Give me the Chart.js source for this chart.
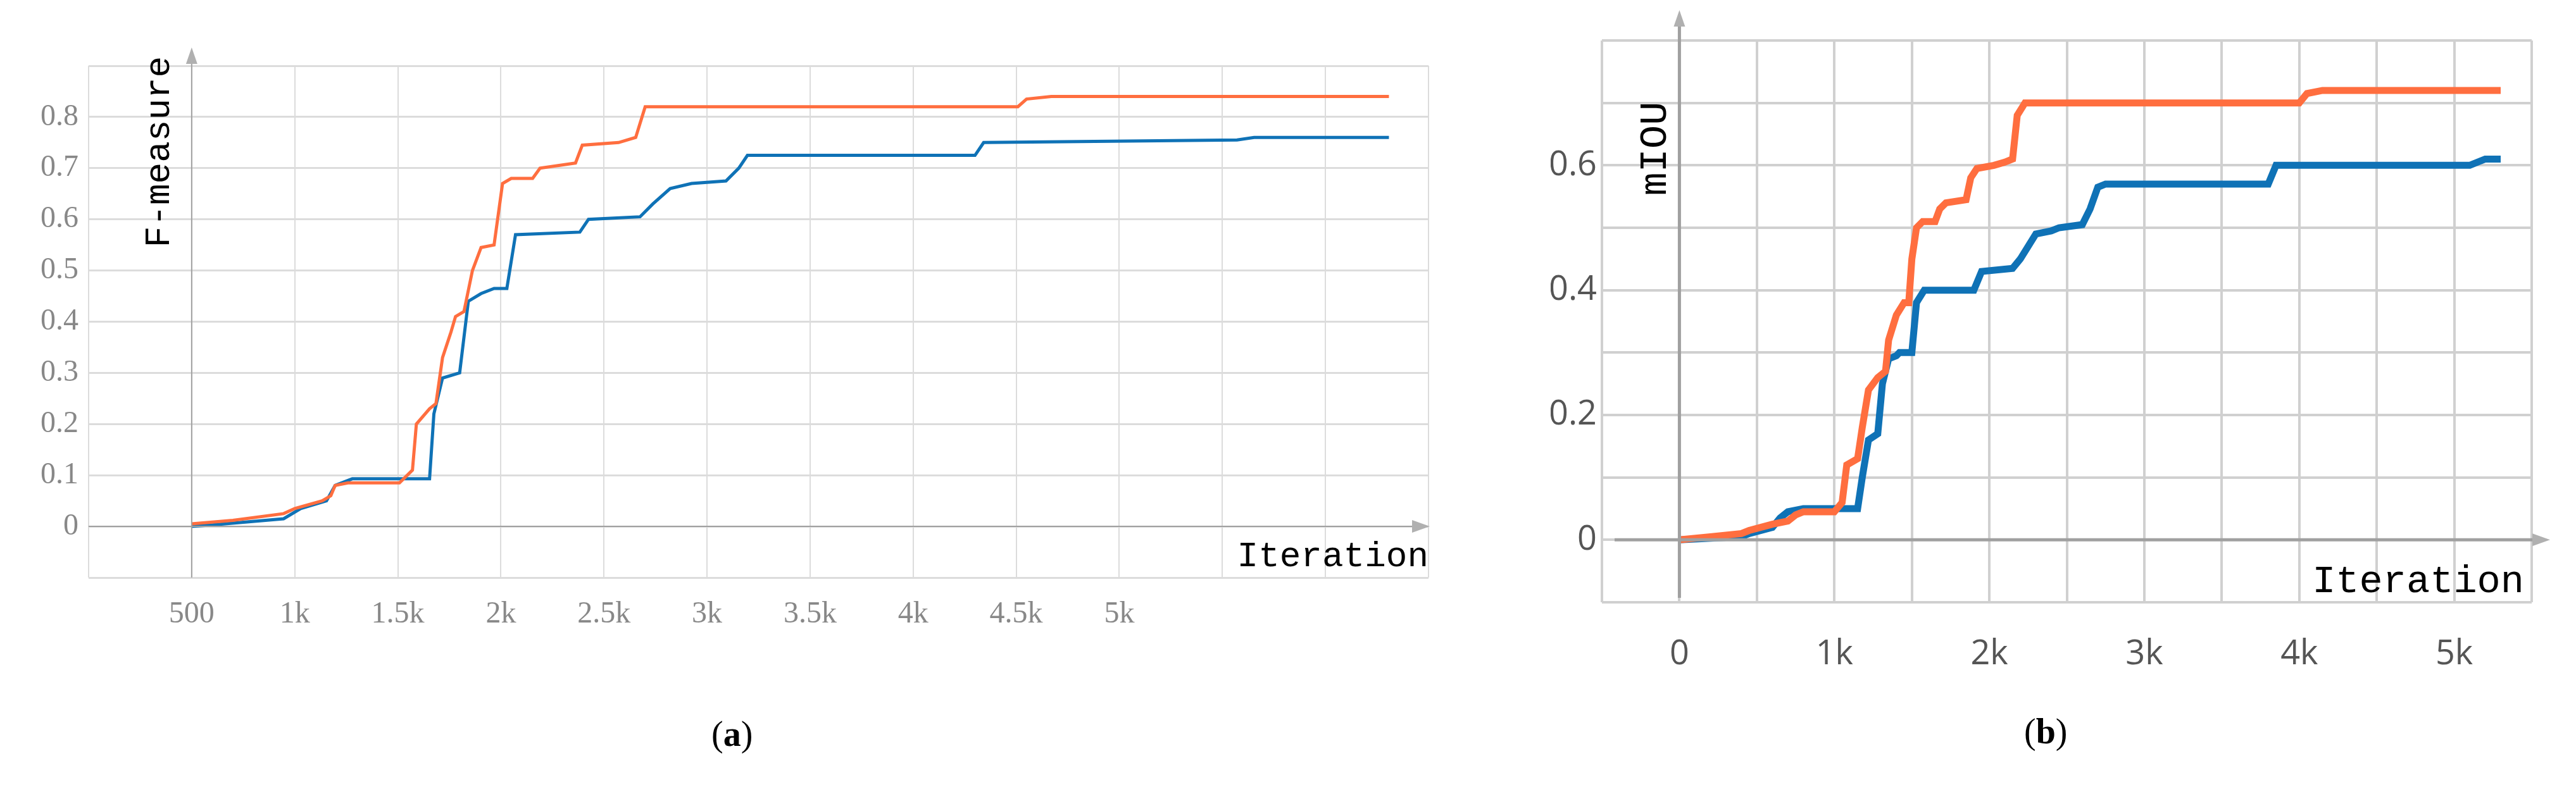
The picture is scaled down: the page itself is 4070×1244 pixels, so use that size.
<!DOCTYPE html>
<html lang="en">
<head>
<meta charset="UTF-8">
<title>F-measure and mIOU</title>
<script src="https://cdn.jsdelivr.net/npm/chart.js"></script>
<style>
  body { margin: 0; width: 4070px; height: 1244px; background: #fff; position: relative; overflow: hidden; }
  .box { position: absolute; }
  .cap { position: absolute; font-family: "Liberation Serif", serif; font-size: 56px; color: #000; }
</style>
</head>
<body>
<div class="box" style="left:0;top:0;width:2300px;height:1050px"><canvas id="chartA"></canvas></div>
<div class="box" style="left:2450px;top:0;width:1620px;height:1100px"><canvas id="chartB"></canvas></div>
<div class="cap" style="left:1124px;top:1128px">(<b>a</b>)</div>
<div class="cap" style="left:3198px;top:1124px">(<b>b</b>)</div>
<script>
// panel (a): F-measure vs iteration
const iterA_orange = [500, 700, 946, 1000, 1133, 1175, 1196, 1258, 1508, 1571, 1590, 1654, 1685, 1717, 1758, 1780, 1821, 1862, 1904, 1967, 2008, 2050, 2154, 2190, 2362, 2395, 2571, 2654, 2700, 4508, 4550, 4670, 6308];
const fA_orange    = [0.005, 0.012, 0.025, 0.035, 0.05, 0.06, 0.08, 0.085, 0.085, 0.11, 0.2, 0.23, 0.24, 0.33, 0.38, 0.41, 0.42, 0.5, 0.545, 0.55, 0.67, 0.68, 0.68, 0.70, 0.71, 0.745, 0.75, 0.76, 0.82, 0.82, 0.835, 0.84, 0.84];
const iterA_blue   = [500, 600, 946, 1029, 1154, 1196, 1279, 1654, 1675, 1717, 1800, 1842, 1904, 1967, 2029, 2071, 2383, 2425, 2675, 2737, 2821, 2925, 3092, 3154, 3196, 4300, 4342, 5571, 5654, 6308];
const fA_blue      = [0, 0.003, 0.015, 0.035, 0.05, 0.08, 0.093, 0.093, 0.22, 0.29, 0.3, 0.44, 0.455, 0.465, 0.465, 0.57, 0.575, 0.6, 0.605, 0.63, 0.66, 0.67, 0.675, 0.7, 0.725, 0.725, 0.75, 0.755, 0.76, 0.76];
const ticksA = {500: '500', 1000: '1k', 1500: '1.5k', 2000: '2k', 2500: '2.5k', 3000: '3k', 3500: '3.5k', 4000: '4k', 4500: '4.5k', 5000: '5k'};

// panel (b): mIOU vs iteration
const iterB_orange = [0, 200, 400, 450, 600, 700, 750, 800, 1000, 1050, 1080, 1150, 1180, 1220, 1280, 1330, 1350, 1400, 1450, 1480, 1500, 1530, 1570, 1650, 1680, 1720, 1850, 1880, 1920, 2030, 2100, 2150, 2180, 2230, 4000, 4050, 4150, 5300];
const mB_orange    = [0, 0.005, 0.01, 0.015, 0.025, 0.03, 0.04, 0.045, 0.045, 0.06, 0.12, 0.13, 0.18, 0.24, 0.26, 0.27, 0.32, 0.36, 0.38, 0.38, 0.45, 0.5, 0.51, 0.51, 0.53, 0.54, 0.545, 0.58, 0.595, 0.6, 0.605, 0.61, 0.68, 0.7, 0.7, 0.715, 0.72, 0.72];
const iterB_blue   = [0, 400, 450, 600, 650, 700, 800, 1150, 1180, 1220, 1280, 1310, 1350, 1400, 1420, 1500, 1530, 1580, 1900, 1950, 2150, 2200, 2250, 2300, 2400, 2450, 2600, 2650, 2700, 2750, 3800, 3850, 5100, 5200, 5300];
const mB_blue      = [0, 0.005, 0.01, 0.02, 0.035, 0.045, 0.05, 0.05, 0.1, 0.16, 0.17, 0.25, 0.29, 0.295, 0.3, 0.3, 0.38, 0.4, 0.4, 0.43, 0.435, 0.45, 0.47, 0.49, 0.495, 0.5, 0.505, 0.53, 0.565, 0.57, 0.57, 0.6, 0.6, 0.61, 0.61];
const ticksB = {0: '0', 1000: '1k', 2000: '2k', 3000: '3k', 4000: '4k', 5000: '5k'};
const yTicksB = ['0', '0.2', '0.4', '0.6'];

const ORANGE = '#ff6e3f';
const BLUE = '#0f72b6';

function pts(xs, ys) { return xs.map((x, i) => ({x: x, y: ys[i]})); }

// draws the grey axis lines with arrow heads plus the in-plot titles
function axesPlugin(cfg) {
  return {
    id: 'axes',
    afterDraw(chart) {
      const c = chart.ctx, x = chart.scales.x, y = chart.scales.y;
      const ox = x.getPixelForValue(cfg.ox), oy = y.getPixelForValue(0);
      c.save();
      c.strokeStyle = '#a0a0a0'; c.fillStyle = '#b0b0b0'; c.lineWidth = cfg.axisW;
      c.beginPath(); c.moveTo(ox, cfg.yBottom); c.lineTo(ox, cfg.yTop); c.stroke();
      c.beginPath(); c.moveTo(x.left + cfg.xStart, oy); c.lineTo(cfg.xEnd, oy); c.stroke();
      c.beginPath(); c.moveTo(ox, cfg.yTop - 20); c.lineTo(ox - 9, cfg.yTop + 6); c.lineTo(ox + 9, cfg.yTop + 6); c.fill();
      c.beginPath(); c.moveTo(cfg.xEnd + 24, oy); c.lineTo(cfg.xEnd - 4, oy - 10); c.lineTo(cfg.xEnd - 4, oy + 10); c.fill();
      c.fillStyle = '#000';
      c.font = cfg.titleFont;
      c.textAlign = 'right'; c.textBaseline = 'middle';
      c.fillText('Iteration', cfg.itX, cfg.itY);
      c.translate(cfg.yTitleX, cfg.yTitleY); c.rotate(-Math.PI / 2);
      c.textAlign = 'center';
      c.fillText(cfg.yTitle, 0, 0);
      c.restore();
    }
  };
}

new Chart(document.getElementById('chartA'), {
  type: 'line',
  data: { datasets: [
    { data: pts(iterA_orange, fA_orange), borderColor: ORANGE, borderWidth: 5, pointRadius: 0, tension: 0 },
    { data: pts(iterA_blue, fA_blue), borderColor: BLUE, borderWidth: 5, pointRadius: 0, tension: 0 }
  ]},
  options: {
    responsive: true, maintainAspectRatio: false, animation: false,
    layout: { padding: { top: 104, right: 43, left: 0, bottom: 0 } },
    plugins: { legend: { display: false }, tooltip: { enabled: false } },
    scales: {
      x: {
        type: 'linear', min: 0, max: 6500,
        afterFit: s => { s.height = 137; },
        grid: { color: '#dcdcdc', lineWidth: 2, drawTicks: false },
        border: { display: false },
        ticks: { stepSize: 500, autoSkip: false, maxRotation: 0, padding: 30, color: '#888',
          font: { family: 'Liberation Serif', size: 48 },
          callback: v => ticksA[v] || '' }
      },
      y: {
        min: -0.1, max: 0.9,
        afterFit: s => { s.width = 140; },
        grid: { color: '#dcdcdc', lineWidth: 3, drawTicks: false },
        border: { display: false },
        ticks: { stepSize: 0.1, padding: 16, color: '#888',
          font: { family: 'Liberation Serif', size: 48 },
          callback: v => (v < -0.01 || v > 0.85) ? '' : (Math.round(v * 10) / 10).toString() }
      }
    }
  },
  plugins: [axesPlugin({ ox: 500, axisW: 2, yTop: 95, yBottom: 913, xStart: 0, xEnd: 2235,
    titleFont: '56px "Liberation Mono"', itX: 2257, itY: 880, yTitle: 'F-measure', yTitleX: 252, yTitleY: 240 })]
});

new Chart(document.getElementById('chartB'), {
  type: 'line',
  data: { datasets: [
    { data: pts(iterB_orange, mB_orange), borderColor: ORANGE, borderWidth: 11, pointRadius: 0, tension: 0 },
    { data: pts(iterB_blue, mB_blue), borderColor: BLUE, borderWidth: 11, pointRadius: 0, tension: 0 }
  ]},
  options: {
    responsive: true, maintainAspectRatio: false, animation: false,
    layout: { padding: { top: 64, right: 70, left: 0, bottom: 0 } },
    plugins: { legend: { display: false }, tooltip: { enabled: false } },
    scales: {
      x: {
        type: 'linear', min: -500, max: 5500,
        afterFit: s => { s.height = 148; },
        grid: { color: '#d0d0d0', lineWidth: 4, drawTicks: false },
        border: { display: false },
        ticks: { stepSize: 500, autoSkip: false, maxRotation: 0, padding: 50, color: '#555',
          font: { family: 'Open Sans', size: 54 },
          callback: v => ticksB[v] || '' }
      },
      y: {
        min: -0.1, max: 0.8,
        afterFit: s => { s.width = 81; },
        grid: { color: '#d0d0d0', lineWidth: 4, drawTicks: false },
        border: { display: false },
        ticks: { stepSize: 0.1, padding: 8, color: '#555',
          font: { family: 'Open Sans', size: 54 },
          callback: v => { const s = (Math.round(v * 10) / 10).toString(); return yTicksB.includes(s) ? s : ''; } }
      }
    }
  },
  plugins: [axesPlugin({ ox: 0, axisW: 5, yTop: 36, yBottom: 945, xStart: 20, xEnd: 1555,
    titleFont: '62px "Liberation Mono"', itX: 1538, itY: 920, yTitle: 'mIOU', yTitleX: 166, yTitleY: 235 })]
});
</script>
</body>
</html>
